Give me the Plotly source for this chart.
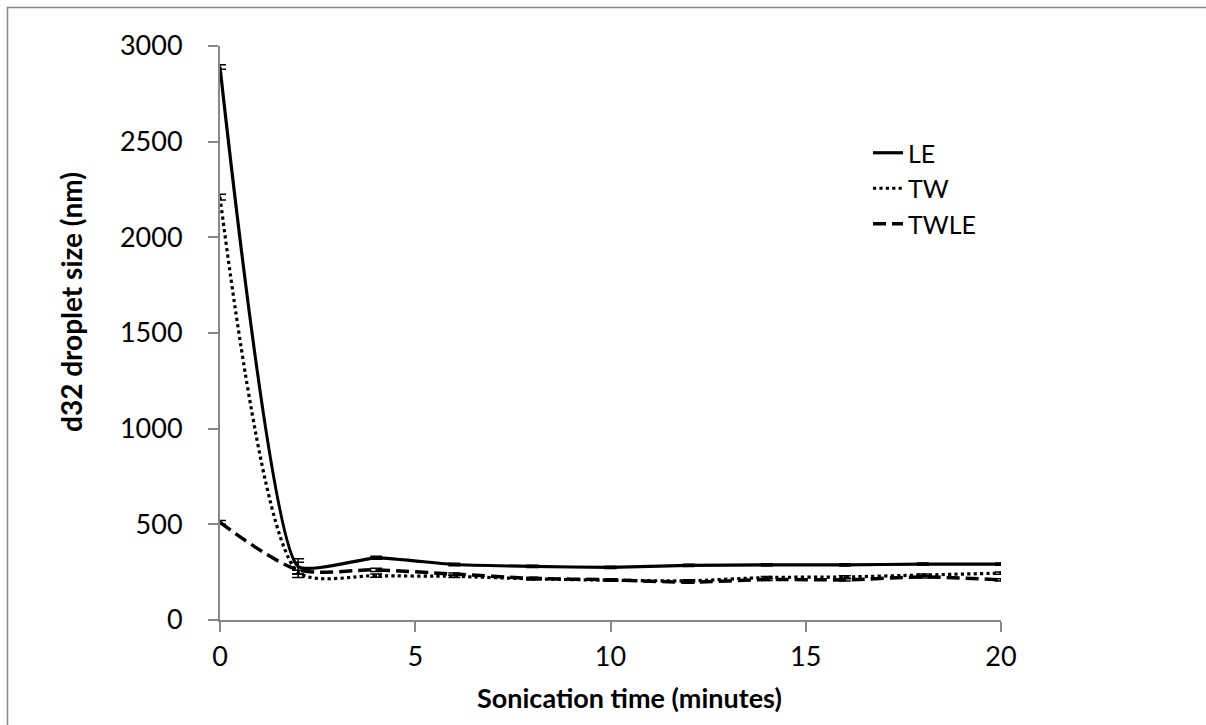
import plotly.graph_objects as go

time_min = [0, 2, 4, 6, 8, 10, 12, 14, 16, 18, 20]
le_vals = [2890, 280, 325, 290, 280, 275, 285, 288, 288, 292, 292]
tw_vals = [2210, 250, 232, 228, 215, 208, 205, 222, 225, 235, 245]
twle_vals = [510, 262, 262, 240, 218, 210, 198, 212, 210, 225, 210]
le_err = [12, 40, 8, 6, 6, 6, 6, 6, 6, 6, 6]
tw_err = [15, 10, 8, 6, 6, 6, 6, 6, 6, 6, 6]
twle_err = [10, 40, 8, 6, 6, 6, 6, 6, 6, 6, 6]

x_ticks = [0, 5, 10, 15, 20]
y_ticks = [0, 500, 1000, 1500, 2000, 2500, 3000]

font_family = "Lato, 'Open Sans', sans-serif"

W, H = 1206, 725
L, R, T, B = 220, 205, 46, 105
PW, PH = W - L - R, H - T - B


def px_x(px):
    return (px - L) / PW


def px_y(py):
    return (H - B - py) / PH


fig = go.Figure()

series = [
    ("LE", le_vals, le_err, "solid", 3.2, 0.45),
    ("TW", tw_vals, tw_err, "dot", 3.2, 0.7),
    ("TWLE", twle_vals, twle_err, "13px,6px", 3.5, 0.8),
]
for name, vals, err, dash, w, sm in series:
    fig.add_trace(go.Scatter(
        x=time_min, y=vals, name=name, mode="lines",
        line=dict(color="black", width=w, dash=dash, shape="spline", smoothing=sm),
        error_y=dict(type="data", array=err, visible=True, color="black",
                     thickness=1.5, width=6),
    ))

grey = "#888888"
fig.update_layout(
    width=W, height=H,
    margin=dict(l=L, r=R, t=T, b=B, autoexpand=False),
    paper_bgcolor="white", plot_bgcolor="white",
    font=dict(family=font_family, color="black", size=24),
    showlegend=True,
    legend=dict(x=px_x(868), y=px_y(130), xanchor="left", yanchor="top",
                font=dict(size=25, family=font_family), itemwidth=30,
                tracegroupgap=0, bgcolor="rgba(0,0,0,0)"),
    xaxis=dict(range=[0, 20], tickvals=x_ticks, showgrid=False, zeroline=False,
               showline=True, linecolor=grey, linewidth=2, automargin=False,
               ticks="outside", ticklen=10, tickcolor=grey, tickwidth=2,
               tickfont=dict(size=27), ticklabelstandoff=2),
    yaxis=dict(range=[0, 3000], tickvals=y_ticks, showgrid=False, zeroline=False,
               showline=True, linecolor=grey, linewidth=2, automargin=False,
               ticks="outside", ticklen=10, tickcolor=grey, tickwidth=2,
               tickfont=dict(size=27), ticklabelstandoff=20),
    annotations=[
        dict(text="<b>Sonication time (minutes)</b>", xref="paper", yref="paper",
             x=px_x(629), y=px_y(697), xanchor="center", yanchor="middle",
             showarrow=False, font=dict(size=27)),
        dict(text="<b>d32 droplet size (nm)</b>", xref="paper", yref="paper",
             x=px_x(71), y=px_y(302), xanchor="center", yanchor="middle",
             textangle=-90, showarrow=False, font=dict(size=28)),
    ],
)

# outer chart border (only top and left edges fall inside the picture)
fig.add_shape(type="rect", xref="paper", yref="paper",
              x0=px_x(7.5), x1=px_x(1400), y0=px_y(900), y1=px_y(7.5),
              line=dict(color=grey, width=1.5), layer="below")

fig.write_html("out.html", config={"displayModeBar": False},
               post_script="document.body.style.margin='0';")
